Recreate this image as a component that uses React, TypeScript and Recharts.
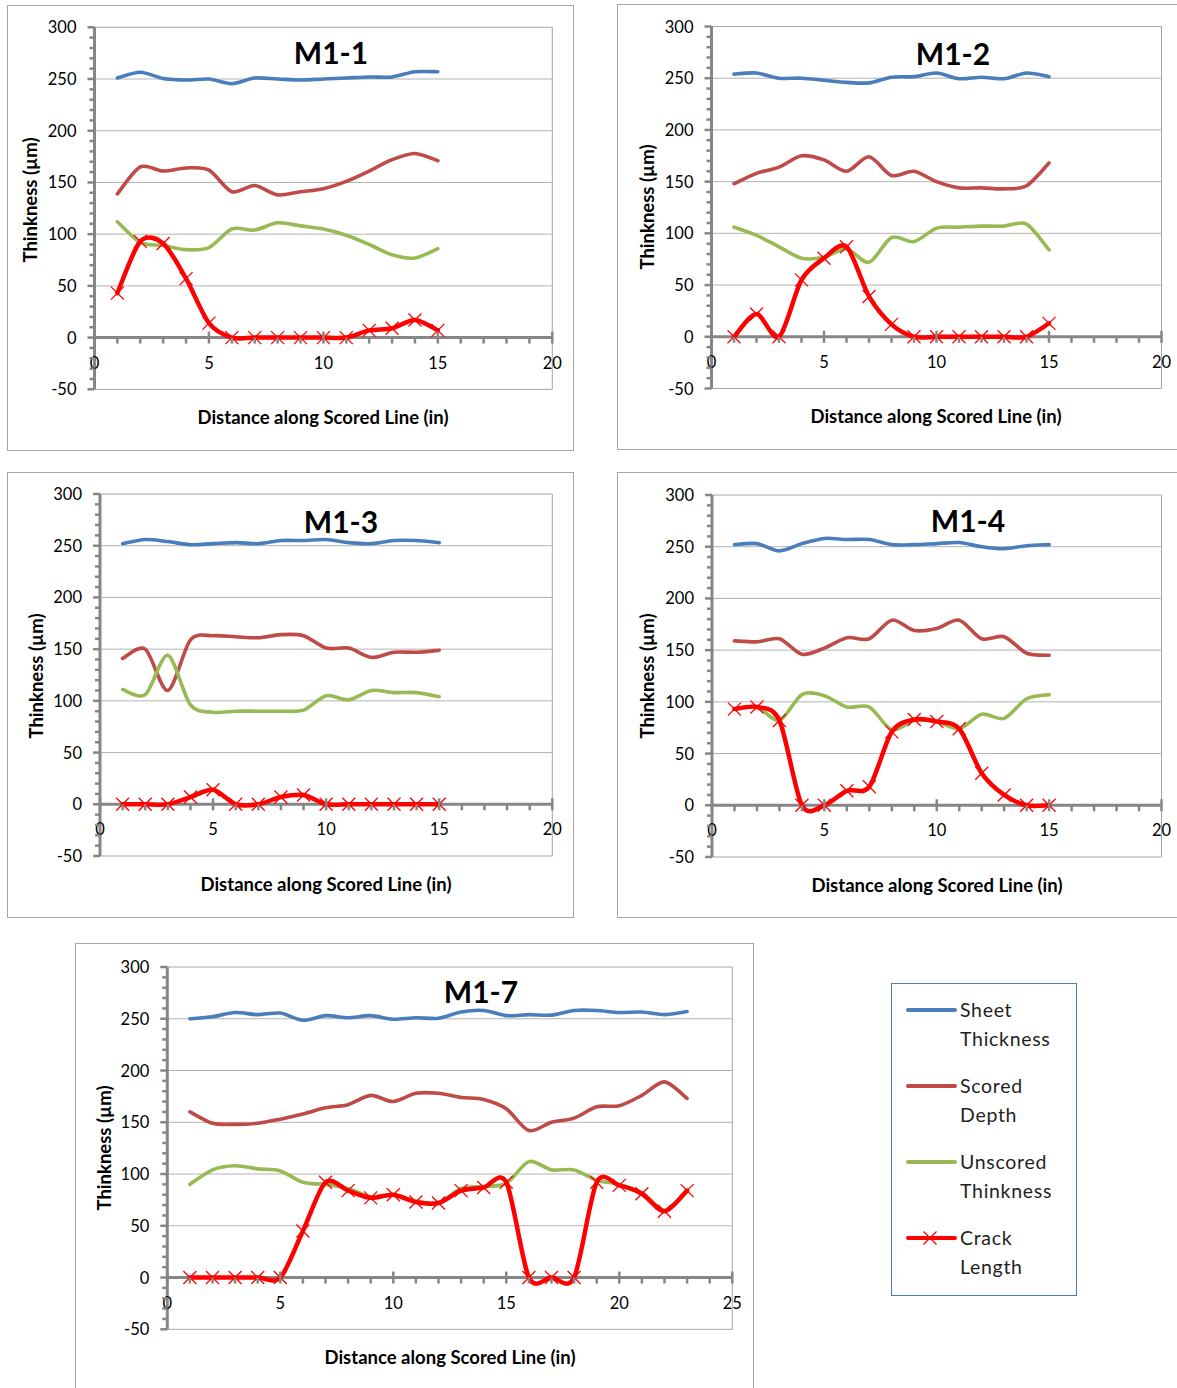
import React from "react";
import { LineChart, Line, XAxis, YAxis, ReferenceLine, ReferenceArea } from "recharts";

const FONT = 'Lato, "Open Sans", Arial, sans-serif';
const AXIS = "#868686";
const GRID = "#b3b3b3";
const FRAME = "#a6a6a6";

const C_SHEET = "#4a7ebb";
const C_SCORED = "#be4b48";
const C_UNSCORED = "#98b954";
const C_CRACK = "#ff0000";

// positions along the scored line (in)
const pos15 = [1, 2, 3, 4, 5, 6, 7, 8, 9, 10, 11, 12, 13, 14, 15];
const pos23 = [1, 2, 3, 4, 5, 6, 7, 8, 9, 10, 11, 12, 13, 14, 15, 16, 17, 18, 19, 20, 21, 22, 23];

// M1-1
const m11Sheet = [251, 256.5, 250.5, 249, 250, 245.5, 251, 250, 249, 250, 251, 252, 252, 257, 257];
const m11Scored = [139, 165, 161, 164, 162, 141, 147, 138, 141, 144, 151, 161, 172, 178, 171];
const m11Unscored = [112, 92, 89, 85, 87, 105, 104, 111, 108, 105, 99, 90, 80, 77, 86];
const m11Crack = [43, 93, 91, 57, 14, 0, 0, 0, 0, 0, 0, 7, 9, 17, 7];

// M1-2
const m12Sheet = [254, 255, 250, 250, 248, 246, 245.5, 251, 251.5, 255, 249.5, 251, 249.5, 255, 251.5];
const m12Scored = [148, 158, 164, 175, 171, 160, 174, 156, 160, 150, 144, 144, 143, 146, 168];
const m12Unscored = [106, 98, 87, 76, 77, 85, 72, 96, 92, 105, 106, 107, 107, 109, 84];
const m12Crack = [0, 22, 0, 55, 76, 87, 39, 12, 0, 0, 0, 0, 0, 0, 13];

// M1-3
const m13Sheet = [252, 256, 254, 251, 252, 253, 252, 255, 255, 256, 253, 252, 255, 255, 253];
const m13Scored = [141, 150, 110, 159, 163, 162, 161, 164, 163, 151, 151, 142, 147, 147, 149];
const m13Unscored = [111, 106, 144, 96, 89, 90, 90, 90, 91, 105, 101, 110, 108, 108, 104];
const m13Crack = [0, 0, 0, 7, 14, 0, 0, 7, 9, 0, 0, 0, 0, 0, 0];

// M1-4
const m14Sheet = [252, 253, 246, 253, 258, 257, 257, 252, 252, 253, 254, 250, 248, 251, 252];
const m14Scored = [159, 158, 161, 146, 152, 162, 161, 179, 169, 171, 179, 161, 163, 147, 145];
const m14Unscored = [93, 95, 82, 107, 106, 95, 95, 73, 82, 81, 74, 88, 84, 103, 107];
const m14Crack = [93, 95, 82, 0, 0, 14, 18, 71, 83, 81, 74, 31, 10, 0, 0];

// M1-7
const m17Sheet = [250, 252, 256, 254, 255.5, 248.5, 253, 251, 253, 249.5, 251, 250.5, 256.5, 258, 253, 254, 253.5, 258, 258, 256, 256.5, 254, 257];
const m17Scored = [160, 149, 148, 149, 153, 158, 164, 167, 176, 170, 178, 178, 174, 172, 163, 142, 150, 154, 165, 166, 176, 189, 173];
const m17Unscored = [90, 104, 108, 105, 103, 92, 90, 86, 78, 80, 74, 72, 86, 88, 91, 112, 104, 104, 94, 90, 82, 65, 84];
const m17Crack = [0, 0, 0, 0, 0, 45, 92, 84, 77, 80, 73, 72, 84, 87, 92, 0, 0, 0, 92, 89, 81, 64, 84];

const Y_MIN = -50;
const Y_MAX = 300;
const yLabels = [-50, 0, 50, 100, 150, 200, 250, 300];
const gridValues = [50, 100, 150, 200, 250];

const range = (a: number, b: number, step: number) => {
  const out: number[] = [];
  for (let v = a; v <= b; v += step) out.push(v);
  return out;
};

const legendItems = [
  { key: "sheet", lines: ["Sheet", "Thickness"], color: C_SHEET },
  { key: "scored", lines: ["Scored", "Depth"], color: C_SCORED },
  { key: "unscored", lines: ["Unscored", "Thinkness"], color: C_UNSCORED },
  { key: "crack", lines: ["Crack", "Length"], color: C_CRACK },
];

const makeRows = (xs: number[], sheet: number[], scored: number[], unscored: number[], crack: number[]) =>
  xs.map((x, i) => ({ x, sheet: sheet[i], scored: scored[i], unscored: unscored[i], crack: crack[i] }));

// excel-like smoothed line (catmull-rom style bezier through the points)
const SMOOTH = 0.145;
const excelSmooth = (context: any) => {
  let pts: number[][] = [];
  return {
    areaStart() {},
    areaEnd() {},
    lineStart() {
      pts = [];
    },
    point(x: number, y: number) {
      pts.push([+x, +y]);
    },
    lineEnd() {
      const n = pts.length;
      if (!n) return;
      context.moveTo(pts[0][0], pts[0][1]);
      for (let i = 0; i < n - 1; i++) {
        const p0 = pts[Math.max(i - 1, 0)];
        const p1 = pts[i];
        const p2 = pts[i + 1];
        const p3 = pts[Math.min(i + 2, n - 1)];
        context.bezierCurveTo(
          p1[0] + (p2[0] - p0[0]) * SMOOTH,
          p1[1] + (p2[1] - p0[1]) * SMOOTH,
          p2[0] - (p3[0] - p1[0]) * SMOOTH,
          p2[1] - (p3[1] - p1[1]) * SMOOTH,
          p2[0],
          p2[1]
        );
      }
    },
  };
};

const CrossDot = ({ cx, cy }: any) => {
  if (cx == null || cy == null) return <g />;
  const r = 6.5;
  return (
    <g>
      <line x1={cx - r} y1={cy - r} x2={cx + r} y2={cy + r} stroke={C_CRACK} strokeWidth={1.3} />
      <line x1={cx - r} y1={cy + r} x2={cx + r} y2={cy - r} stroke={C_CRACK} strokeWidth={1.3} />
    </g>
  );
};

const panels = [
  {
    title: "M1-1",
    data: makeRows(pos15, m11Sheet, m11Scored, m11Unscored, m11Crack),
    xMax: 20,
    box: { left: 7, top: 5, width: 567, height: 446 },
    plot: { l: 94.5, t: 27.3, r: 552.3, b: 389.3 },
    titleAt: [331, 52],
    xTitleAt: [323, 417],
    yTitleAt: [30, 200],
  },
  {
    title: "M1-2",
    data: makeRows(pos15, m12Sheet, m12Scored, m12Unscored, m12Crack),
    xMax: 20,
    box: { left: 617, top: 4, width: 575, height: 446 },
    plot: { l: 711.5, t: 26.5, r: 1161.5, b: 388.5 },
    titleAt: [953, 53],
    xTitleAt: [936, 416],
    yTitleAt: [647, 207],
  },
  {
    title: "M1-3",
    data: makeRows(pos15, m13Sheet, m13Scored, m13Unscored, m13Crack),
    xMax: 20,
    box: { left: 7, top: 472, width: 567, height: 446 },
    plot: { l: 100, t: 494, r: 552.3, b: 856 },
    titleAt: [341, 521],
    xTitleAt: [326, 884],
    yTitleAt: [36, 676],
  },
  {
    title: "M1-4",
    data: makeRows(pos15, m14Sheet, m14Scored, m14Unscored, m14Crack),
    xMax: 20,
    box: { left: 617, top: 472, width: 575, height: 446 },
    plot: { l: 712, t: 495, r: 1161.5, b: 857 },
    titleAt: [968, 520],
    xTitleAt: [937, 885],
    yTitleAt: [647, 676],
  },
  {
    title: "M1-7",
    data: makeRows(pos23, m17Sheet, m17Scored, m17Unscored, m17Crack),
    xMax: 25,
    box: { left: 75, top: 943, width: 679, height: 460 },
    plot: { l: 167.3, t: 967, r: 732.3, b: 1329.3 },
    titleAt: [481, 991],
    xTitleAt: [450, 1357],
    yTitleAt: [104, 1148],
  },
];

const YW = 40;
const XH = 20;

function Panel({ p }: { p: (typeof panels)[number] }) {
  const { box, plot } = p;
  const plotH = plot.b - plot.t;
  const margin = {
    top: plot.t - box.top,
    left: plot.l - box.left - YW,
    right: box.left + box.width - plot.r,
    bottom: box.top + box.height - plot.b - XH,
  };
  const zeroY = margin.top + (plotH * Y_MAX) / (Y_MAX - Y_MIN);

  const xTicks = range(0, p.xMax, 1);
  const yTicks = range(Y_MIN, Y_MAX, 10);

  const renderXTick = (props: any) => {
    const { x, payload } = props;
    const v = payload.value;
    const major = v % 5 === 0;
    return (
      <g>
        <line x1={x} x2={x} y1={major ? zeroY - 6 : zeroY} y2={zeroY + 6} stroke={AXIS} strokeWidth={2.5} />
        {major && (
          <text x={x} y={zeroY + 25} textAnchor="middle" dominantBaseline="central" fontSize={16.5} fontFamily={FONT} fill="#000">
            {v}
          </text>
        )}
      </g>
    );
  };

  const renderYTick = (props: any) => {
    const { x, y, payload } = props;
    const v = payload.value;
    const major = yLabels.includes(v);
    return (
      <g>
        <line x1={x - (major ? 7 : 5)} x2={x} y1={y} y2={y} stroke={AXIS} strokeWidth={2.5} />
        {major && (
          <text x={x - 18} y={y} textAnchor="end" dominantBaseline="central" fontSize={16.5} fontFamily={FONT} fill="#000">
            {v}
          </text>
        )}
      </g>
    );
  };

  const rel = (pt: number[]) => ({ left: pt[0] - box.left, top: pt[1] - box.top });

  return (
    <div
      style={{
        position: "absolute",
        left: box.left,
        top: box.top,
        width: box.width,
        height: box.height,
        outline: `1px solid ${FRAME}`,
        outlineOffset: -1,
      }}
    >
      <LineChart width={box.width} height={box.height} data={p.data} margin={margin}>
        <XAxis
          type="number"
          dataKey="x"
          domain={[0, p.xMax]}
          ticks={xTicks}
          interval={0}
          height={XH}
          axisLine={false}
          tickLine={false}
          tickSize={0}
          tickMargin={0}
          tick={renderXTick}
        />
        <YAxis
          type="number"
          domain={[Y_MIN, Y_MAX]}
          ticks={yTicks}
          interval={0}
          width={YW}
          axisLine={{ stroke: AXIS, strokeWidth: 3 }}
          tickLine={false}
          tickSize={0}
          tickMargin={0}
          tick={renderYTick}
        />
        <ReferenceArea x1={0} x2={p.xMax} y1={Y_MIN} y2={Y_MAX} fill="none" stroke={FRAME} strokeWidth={1} />
        {gridValues.map((g) => (
          <ReferenceLine key={g} y={g} stroke={GRID} strokeWidth={1} />
        ))}
        <ReferenceLine y={0} stroke={AXIS} strokeWidth={3} />
        <Line type={excelSmooth as any} dataKey="sheet" stroke={C_SHEET} strokeWidth={3.6} dot={false} activeDot={false} isAnimationActive={false} strokeLinecap="round" />
        <Line type={excelSmooth as any} dataKey="scored" stroke={C_SCORED} strokeWidth={3.6} dot={false} activeDot={false} isAnimationActive={false} strokeLinecap="round" />
        <Line type={excelSmooth as any} dataKey="unscored" stroke={C_UNSCORED} strokeWidth={3.6} dot={false} activeDot={false} isAnimationActive={false} strokeLinecap="round" />
        <Line
          type={excelSmooth as any}
          dataKey="crack"
          stroke={C_CRACK}
          strokeWidth={4.5}
          dot={(dp: any) => <CrossDot key={`c${dp.index}`} {...dp} />}
          activeDot={false}
          isAnimationActive={false}
          strokeLinecap="round"
        />
      </LineChart>
      <div
        style={{
          position: "absolute",
          ...rel(p.titleAt),
          transform: "translate(-50%, -50%)",
          fontFamily: FONT,
          fontWeight: 700,
          fontSize: 30,
          whiteSpace: "nowrap",
          color: "#000",
        }}
      >
        {p.title}
      </div>
      <div
        style={{
          position: "absolute",
          ...rel(p.xTitleAt),
          transform: "translate(-50%, -50%)",
          fontFamily: FONT,
          fontWeight: 700,
          fontSize: 18.5,
          whiteSpace: "nowrap",
          color: "#000",
        }}
      >
        Distance along Scored Line (in)
      </div>
      <div
        style={{
          position: "absolute",
          ...rel(p.yTitleAt),
          transform: "translate(-50%, -50%) rotate(-90deg)",
          fontFamily: FONT,
          fontWeight: 700,
          fontSize: 18.5,
          whiteSpace: "nowrap",
          color: "#000",
        }}
      >
        Thinkness (µm)
      </div>
    </div>
  );
}

function LegendBox() {
  return (
    <div
      style={{
        position: "absolute",
        left: 891,
        top: 983,
        width: 186,
        height: 313,
        boxSizing: "border-box",
        border: "1.5px solid #4a7ebb",
        fontFamily: FONT,
        fontSize: 19.5,
        color: "#1f1f1f",
      }}
    >
      {legendItems.map((it, i) => (
        <div key={it.key} style={{ position: "absolute", left: 14, top: 12 + i * 76 }}>
          <svg width={52} height={28} style={{ position: "absolute", left: 0, top: 0 }}>
            <line x1={2} x2={49} y1={14} y2={14} stroke={it.color} strokeWidth={4} strokeLinecap="round" />
            {it.key === "crack" && <CrossDot cx={24} cy={14} />}
          </svg>
          <div style={{ position: "absolute", left: 54, top: 0, lineHeight: "28.5px", whiteSpace: "nowrap", letterSpacing: 0.7 }}>
            {it.lines.map((l) => (
              <div key={l}>{l}</div>
            ))}
          </div>
        </div>
      ))}
    </div>
  );
}

export default function App() {
  return (
    <div
      style={{
        position: "absolute",
        left: 0,
        top: 0,
        width: 1177,
        height: 1388,
        overflow: "hidden",
        background: "#fff",
      }}
    >
      {panels.map((p) => (
        <Panel key={p.title} p={p} />
      ))}
      <LegendBox />
    </div>
  );
}
